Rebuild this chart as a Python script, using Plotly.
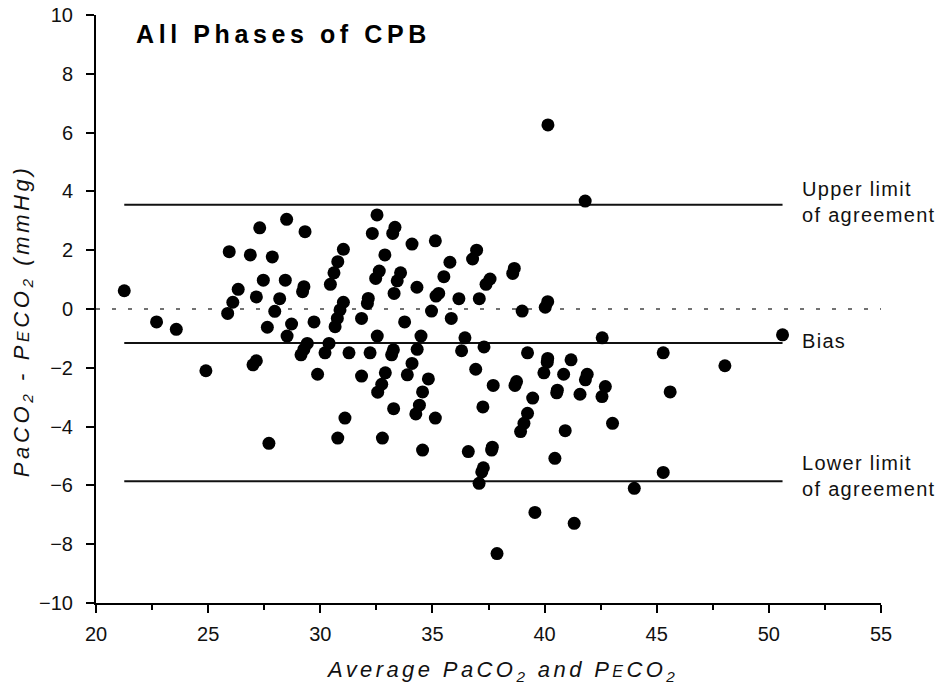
import plotly.graph_objects as go

# Average of PaCO2 and PECO2 (x) and their difference (y)
avg_values = [
    21.26, 22.70, 23.58, 24.90, 25.94, 26.88, 27.86, 27.30, 28.50, 26.34,
    26.10, 25.87, 27.46, 28.44, 27.15, 28.19, 27.97, 27.64, 28.72, 28.52,
    27.15, 27.00, 27.71, 29.32, 32.53, 32.32, 33.33, 33.23, 34.09, 35.13,
    31.03, 30.78, 30.61, 30.45, 32.88, 32.63, 32.47, 33.58, 33.43, 33.29,
    34.31, 35.78, 35.51, 35.28, 35.16, 36.18, 36.97, 36.79, 37.09, 29.27,
    29.21, 31.03, 30.88, 30.76, 30.66, 32.14, 32.10, 31.84, 29.72, 34.96,
    33.76, 35.84, 29.42, 29.27, 29.14, 30.39, 30.21, 31.28, 32.22, 32.54,
    33.26, 33.18, 34.49, 34.32, 34.09, 33.88, 32.90, 31.84, 29.88, 34.82,
    32.74, 32.56, 34.56, 34.42, 34.26, 33.27, 35.13, 31.10, 30.78, 32.77,
    34.56, 36.60, 36.45, 36.30, 36.93, 37.25, 41.81, 37.57, 37.39, 38.65,
    38.58, 39.00, 40.14, 40.03, 37.30, 42.57, 39.24, 40.14, 40.12, 41.18,
    39.97, 40.85, 41.90, 41.82, 45.29, 37.71, 38.75, 38.68, 39.47, 40.57,
    40.54, 41.58, 42.71, 42.56, 45.60, 39.24, 39.08, 38.93, 40.92, 43.03,
    37.67, 37.64, 40.46, 37.27, 37.20, 37.08, 45.29, 44.00, 39.57, 41.32,
    37.88, 50.61, 48.04, 40.15,
]
diff_values = [
    0.62, -0.44, -0.69, -2.10, 1.95, 1.84, 1.77, 2.76, 3.05, 0.67,
    0.23, -0.15, 0.98, 0.98, 0.41, 0.35, -0.08, -0.62, -0.51, -0.92,
    -1.76, -1.90, -4.57, 2.63, 3.20, 2.57, 2.78, 2.57, 2.21, 2.32,
    2.03, 1.61, 1.23, 0.84, 1.84, 1.29, 1.04, 1.23, 0.96, 0.53,
    0.74, 1.59, 1.10, 0.53, 0.44, 0.35, 2.00, 1.70, 0.35, 0.76,
    0.59, 0.23, -0.03, -0.32, -0.60, 0.36, 0.19, -0.32, -0.44, -0.07,
    -0.44, -0.32, -1.17, -1.37, -1.56, -1.17, -1.49, -1.49, -1.49, -0.92,
    -1.39, -1.56, -0.92, -1.37, -1.85, -2.24, -2.17, -2.28, -2.22, -2.38,
    -2.56, -2.83, -2.82, -3.27, -3.57, -3.39, -3.71, -3.71, -4.39, -4.39,
    -4.80, -4.85, -0.98, -1.42, -2.05, -3.33, 3.67, 1.02, 0.84, 1.38,
    1.21, -0.07, 0.25, 0.06, -1.29, -0.98, -1.49, -1.68, -1.81, -1.73,
    -2.17, -2.22, -2.22, -2.41, -1.49, -2.60, -2.47, -2.60, -3.03, -2.76,
    -2.85, -2.90, -2.64, -2.98, -2.82, -3.55, -3.89, -4.17, -4.14, -3.89,
    -4.70, -4.80, -5.08, -5.40, -5.54, -5.93, -5.56, -6.10, -6.92, -7.29,
    -8.32, -0.88, -1.93, 6.26,
]

BIAS = -1.16
UPPER_LOA = 3.55
LOWER_LOA = -5.86
ZERO = 0.0

x_ticks = [20, 25, 30, 35, 40, 45, 50, 55]
y_ticks = [-10, -8, -6, -4, -2, 0, 2, 4, 6, 8, 10]

TITLE = "All Phases of CPB"
X_TITLE = "Average PaCO<sub>2</sub> and P<span style='font-size:16px'>E</span>CO<sub>2</sub>"
Y_TITLE = "PaCO<sub>2</sub> - P<span style='font-size:16px'>E</span>CO<sub>2</sub> (mmHg)"
# (label, value, vertical nudge in px)
LINE_LABELS = [("Upper limit<br>of agreement", UPPER_LOA, 3),
               ("Bias", BIAS, 2),
               ("Lower limit<br>of agreement", LOWER_LOA, 5)]

FONT = "Liberation Sans, Arial, sans-serif"


def spaced(text, px):
    return "<span style='letter-spacing:%spx'>%s</span>" % (px, text)


x_lo, x_hi = min(avg_values), max(avg_values)

fig = go.Figure()

# zero reference (dotted)
fig.add_trace(go.Scatter(
    x=[x_ticks[0], x_ticks[-1]], y=[ZERO, ZERO], mode="lines",
    line=dict(color="#444444", width=1.5, dash="4px,12px"),
    hoverinfo="skip", showlegend=False))

# bias and limits of agreement
for _, val, _s in LINE_LABELS:
    fig.add_trace(go.Scatter(
        x=[x_lo, x_hi], y=[val, val], mode="lines",
        line=dict(color="#111111", width=2),
        hoverinfo="skip", showlegend=False))

fig.add_trace(go.Scatter(
    x=avg_values, y=diff_values, mode="markers",
    marker=dict(color="black", size=13, line=dict(width=0)),
    showlegend=False))

annotations = []
for text, val, shift in LINE_LABELS:
    annotations.append(dict(
        x=51.4, y=val, xref="x", yref="y", text=spaced(text, 1.3),
        showarrow=False, xanchor="left", yanchor="middle", align="left",
        yshift=shift, font=dict(family=FONT, size=20, color="#111111")))

annotations.append(dict(
    x=0.049, y=0.9685, xref="paper", yref="paper",
    text="<b>" + spaced(TITLE, 4.6) + "</b>",
    showarrow=False, xanchor="left", yanchor="middle",
    font=dict(family=FONT, size=25, color="black")))

annotations.append(dict(
    x=0.517, y=-0.1156, xref="paper", yref="paper", text=spaced(X_TITLE, 3.4),
    showarrow=False, xanchor="center", yanchor="middle",
    font=dict(family=FONT, size=22, color="#111111", style="italic")))

annotations.append(dict(
    x=-0.093, y=0.481, xref="paper", yref="paper", text=spaced(Y_TITLE, 3.6),
    textangle=-90, showarrow=False, xanchor="center", yanchor="middle",
    font=dict(family=FONT, size=22, color="#111111", style="italic")))

fig.update_layout(
    width=940, height=685,
    margin=dict(l=96, r=59, t=15, b=82),
    plot_bgcolor="white", paper_bgcolor="white",
    font=dict(family=FONT, size=20, color="#111111"),
    annotations=annotations,
    xaxis=dict(
        range=[x_ticks[0], x_ticks[-1]], tickvals=x_ticks, automargin=False,
        showgrid=False, zeroline=False, showline=True, linecolor="black",
        linewidth=2, ticks="outside", ticklen=8, tickwidth=2, tickcolor="black",
        ticklabelstandoff=4,
        tickfont=dict(family=FONT, size=20, color="#111111"),
        minor=dict(ticks="outside", ticklen=5, tickwidth=2, tickcolor="black",
                   dtick=2.5, tick0=20, showgrid=False)),
    yaxis=dict(
        range=[y_ticks[0], y_ticks[-1]], tickvals=y_ticks, automargin=False,
        showgrid=False, zeroline=False, showline=True, linecolor="black",
        linewidth=2, ticks="outside", ticklen=8, tickwidth=2, tickcolor="black",
        ticklabelstandoff=9,
        tickfont=dict(family=FONT, size=20, color="#111111")),
)

fig.write_html("out.html")
